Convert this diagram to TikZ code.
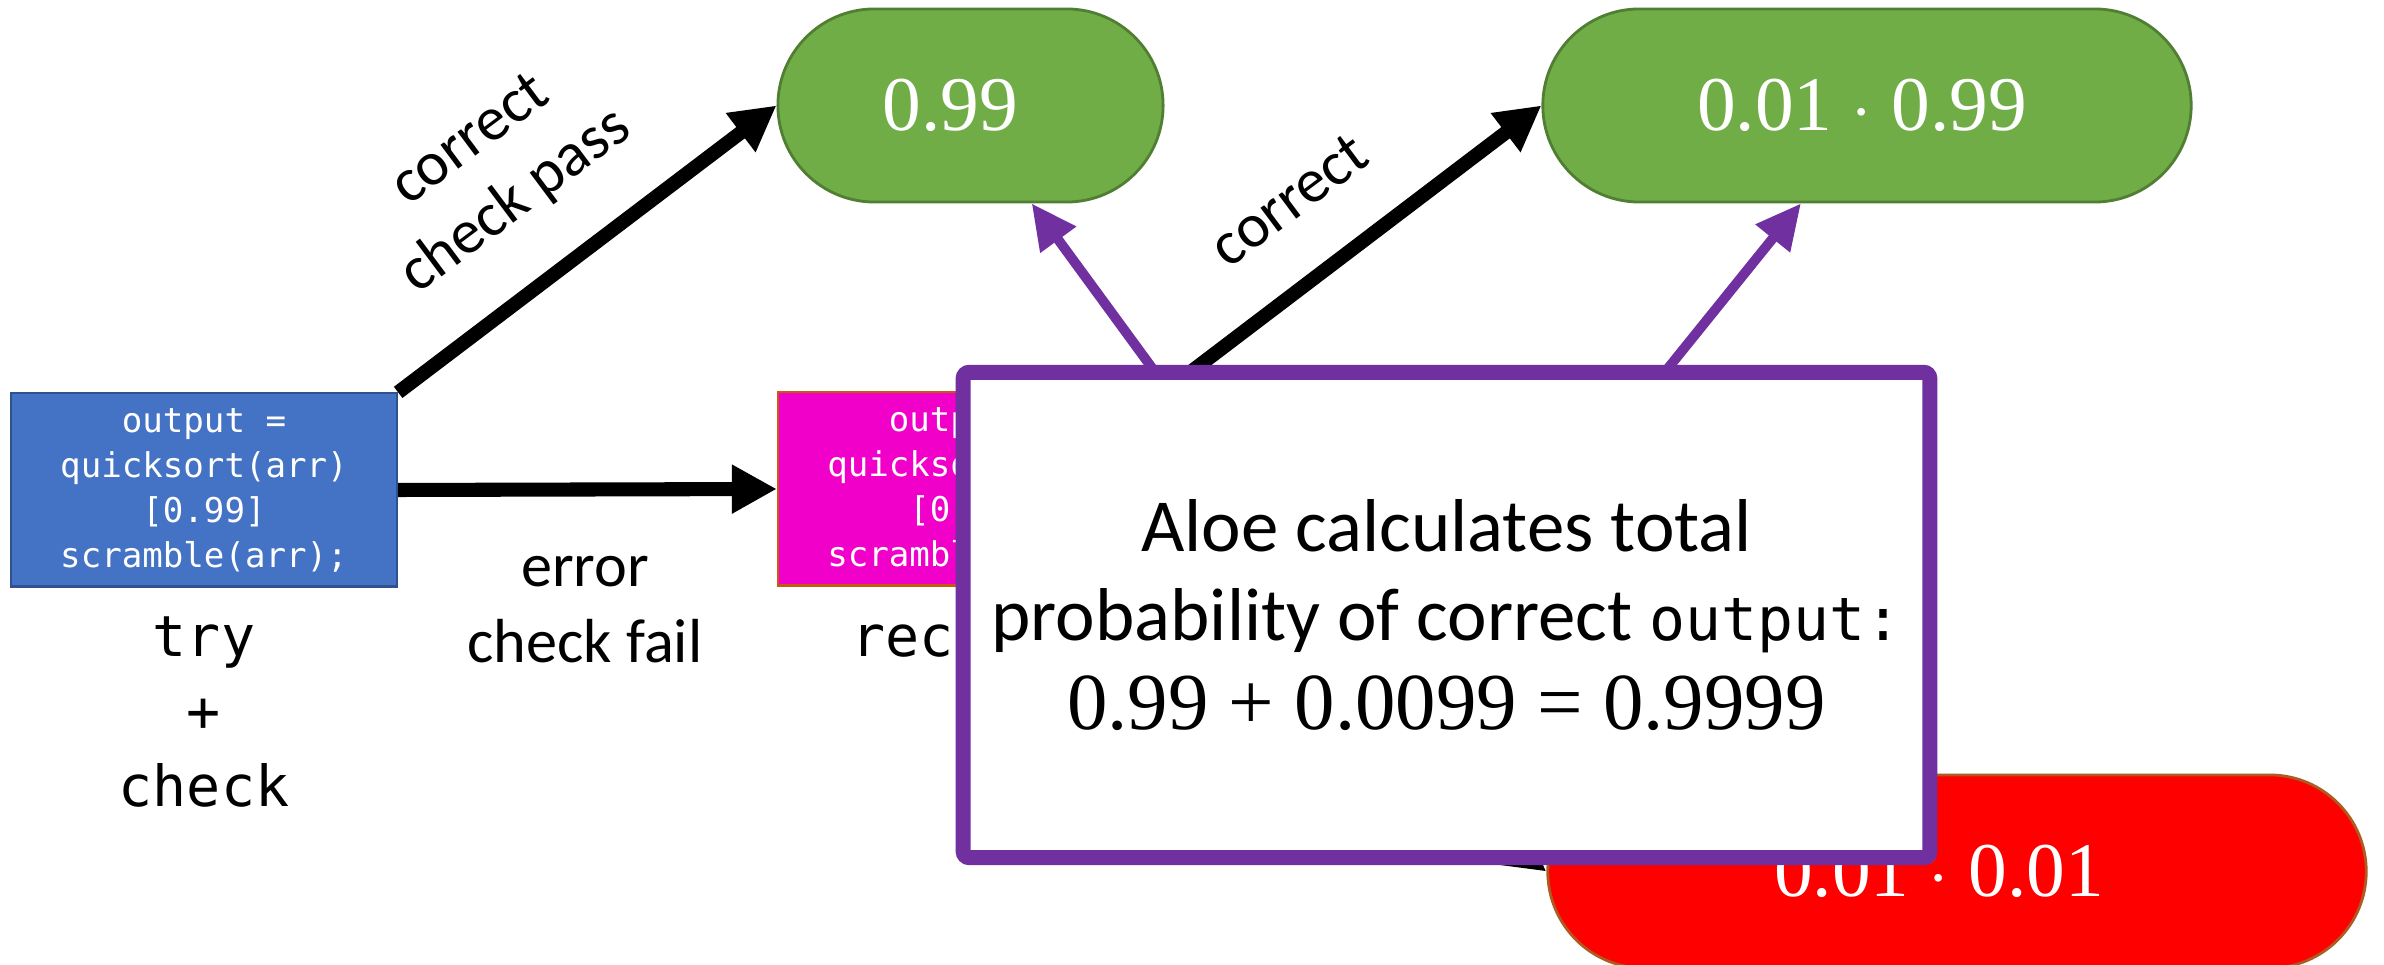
\documentclass[tikz,border=0pt]{standalone}
\usepackage[no-math]{fontspec}
\setmainfont{Carlito}
\setmonofont{DejaVu Sans Mono}
\newfontfamily\numfont{Liberation Serif}
\usepackage{tikz}
\usetikzlibrary{arrows.meta}
\usetikzlibrary{shadows}

\definecolor{tryblue}{HTML}{4472C4}
\definecolor{trybluedark}{HTML}{2F528F}
\definecolor{recpink}{HTML}{F000C8}
\definecolor{recpinkdark}{HTML}{C55A11}
\definecolor{okgreen}{HTML}{70AD47}
\definecolor{okgreendark}{HTML}{507E32}
\definecolor{badred}{HTML}{FF0000}
\definecolor{badreddark}{HTML}{AE5A21}
\definecolor{notepurple}{HTML}{7030A0}

\begin{document}
\begin{tikzpicture}[x=0.01cm, y=-0.01cm,
  codebox/.style={rectangle, minimum width=3.86cm, minimum height=1.93cm, inner sep=0, text=white, align=center, line width=0.6pt, font=\ttfamily\fontsize{9.7}{12.8}\selectfont},
  pill/.style={rectangle, rounded corners=0.965cm, minimum height=1.93cm, text=white, line width=0.8pt, font=\numfont\fontsize{22}{26}\selectfont},
  codelabel/.style={align=center, inner sep=0, font=\ttfamily\fontsize{16.1}{21.3}\selectfont},
  edgelabel/.style={align=center, inner sep=0, font=\fontsize{17.7}{21.6}\selectfont},
  flow/.style={line width=4pt, -{Triangle[length=0.45cm, width=0.46cm]}},
  pointer/.style={draw=notepurple, line width=2.8pt, -{Triangle[length=0.45cm, width=0.42cm]}},
  note/.style={rectangle, draw=notepurple, fill=white, line width=4.27pt, rounded corners=0.06cm, minimum width=9.66cm, minimum height=4.85cm, align=center, font=\fontsize{21.3}{25.3}\selectfont, drop shadow={shadow xshift=0.06cm, shadow yshift=-0.06cm, opacity=0.3}}]
\useasboundingbox (0,0) rectangle (2384,965);

\node[codebox, fill=tryblue, draw=trybluedark] (try) at (204,490) {output =\\quicksort(arr)\\{}[0.99]\\scramble(arr);};
\node[codebox, fill=recpink, draw=recpinkdark] (rec) at (971,489) {output =\\quicksort(arr)\\{}[0.99]\\scramble(arr);};
\node[codelabel, anchor=north] (trylabel) at (204,616) {try\\+\\check};
\node[codelabel, anchor=base] (reclabel) at (971,657) {recover};

\node[pill, minimum width=3.85cm, fill=okgreen, draw=okgreendark] (ok1) at (970.5,105.5) {0.99\hspace*{0.4cm}};
\node[pill, minimum width=6.48cm, fill=okgreen, draw=okgreendark] (ok2) at (1867,105.5) {0.01 $\cdot$ 0.99\hspace*{0.1cm}};
\node[pill, minimum width=8.18cm, fill=badred, draw=badreddark] (bad) at (1957,871.5) {0.01 $\cdot$ 0.01\hspace*{0.36cm}};

\draw[flow] (try.north east) -- (ok1.west);
\draw[flow] (try.east) -- (rec.west);
\draw[flow] (rec.north east) -- (ok2.west);
\draw[flow] (rec.south east) -- (bad.west);

\node[edgelabel, rotate=36.7] (passlabel) at (494,172) {correct\\check pass};
\node[edgelabel] (faillabel) at (585,610) {error\\check fail};
\node[edgelabel, rotate=36.7] (corrlabel) at (1289,200) {correct};

\node[note] (note) at (1446.5,615) {Aloe calculates total\\probability of correct {\ttfamily\fontsize{17}{25.3}\selectfont output:}\\{\numfont\fontsize{23}{25.3}\selectfont 0.99 + 0.0099 = 0.9999}};
\coordinate (n1) at (1155,372);
\coordinate (n2) at (1665,372);
\draw[pointer] (n1) -- (ok1.-58);
\draw[pointer] (n2) -- (ok2.-124);
\end{tikzpicture}
\end{document}
